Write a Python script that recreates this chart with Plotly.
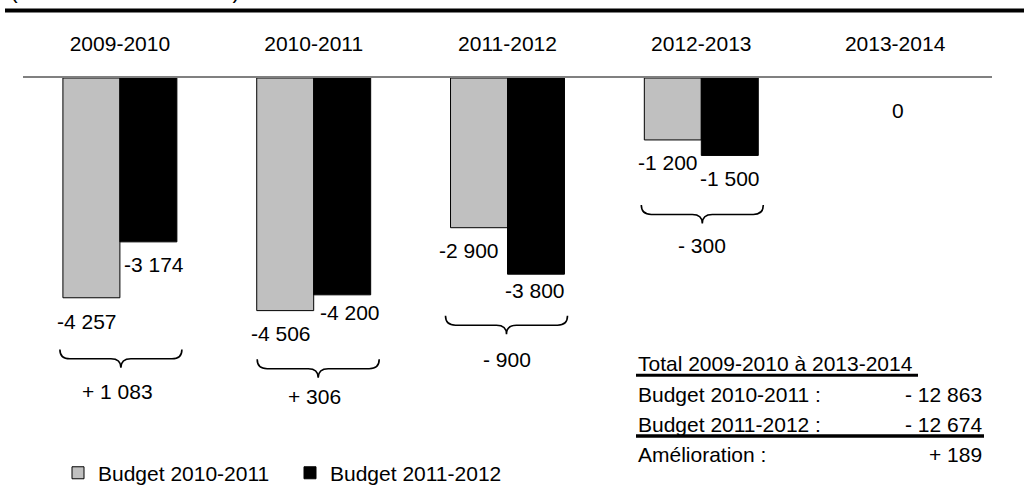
import plotly.graph_objects as go

# ---------------- data ----------------
periods = ["2009-2010", "2010-2011", "2011-2012", "2012-2013", "2013-2014"]
budget_2010_2011 = [-4257, -4506, -2900, -1200, 0]
budget_2011_2012 = [-3174, -4200, -3800, -1500, 0]
series_names = ["Budget 2010-2011", "Budget 2011-2012"]
unit_note = "(en millions de dollars)"
total_title = "Total 2009-2010 à 2013-2014"
total_labels = ["Budget 2010-2011 :", "Budget 2011-2012 :", "Amélioration :"]

# ---------------- layout constants ----------------
W, H = 1024, 500
ML, MR, MT, MB = 23, 32, 78, 6
YMIN, YMAX = -8000, 0
PW, PH = W - ML - MR, H - MT - MB
UX = 5.0 / PW            # category units per pixel
UY = (YMAX - YMIN) / PH  # value units per pixel
FONT = "Liberation Sans, Arial, sans-serif"
FS = 21


def xp(px):
    return (px - ML) / PW


def yp(py):
    return (H - MB - py) / PH


def fmt(v):
    return f"{v:,}".replace(",", " ")


def fmt_signed(v):
    s = "+ " if v >= 0 else "- "
    return s + f"{abs(v):,}".replace(",", " ")


idx = list(range(len(periods)))

fig = go.Figure()
fig.add_trace(go.Bar(x=idx, y=budget_2010_2011, name=series_names[0],
                     marker=dict(color="#C0C0C0",
                                 line=dict(color="black",
                                           width=[1 if v != 0 else 0 for v in budget_2010_2011]))))
fig.add_trace(go.Bar(x=idx, y=budget_2011_2012, name=series_names[1],
                     marker=dict(color="black",
                                 line=dict(color="black",
                                           width=[1 if v != 0 else 0 for v in budget_2011_2012]))))

ann = []
shapes = []

# value labels (pixel offsets of each label from its bar end)
gray_off = [(-33, 24), (-33, 23), (-39, 23), (-33, 23), (3, 32)]
black_off = [(34.5, 23), (36.5, 18), (27, 16), (28.5, 23), (3, 32)]
for i in idx:
    g, b = budget_2010_2011[i], budget_2011_2012[i]
    if g == b:
        dx, dy = gray_off[i]
        ann.append(dict(x=i, y=g, xref="x", yref="y", text=fmt(g), showarrow=False,
                        xshift=dx, yshift=-dy, xanchor="center", yanchor="middle"))
        continue
    for v, (dx, dy) in ((g, gray_off[i]), (b, black_off[i])):
        ann.append(dict(x=i, y=v, xref="x", yref="y", text=fmt(v), showarrow=False,
                        xshift=dx, yshift=-dy, xanchor="center", yanchor="middle"))

# braces + differences
brace_drop = [52, 49, 42, 50]
brace_dx = [1, 4.5, -1, 1]
diff_drop = [42, 37, 44, 41]
diff_dx = [-2, 1, -1, 1]
HALF, R, D1, D2 = 61, 10, 9.5, 18.5
for i in idx:
    g, b = budget_2010_2011[i], budget_2011_2012[i]
    if g == b:
        continue
    low = min(g, b)
    y0 = low - brace_drop[i] * UY
    y1 = y0 - D1 * UY
    y2 = y0 - D2 * UY
    xm = i + brace_dx[i] * UX
    x0 = xm - HALF * UX
    x1 = xm + HALF * UX
    r = R * UX
    path = (f"M{x0},{y0} Q{x0},{y1} {x0 + r},{y1} L{xm - r},{y1} Q{xm},{y1} {xm},{y2} "
            f"Q{xm},{y1} {xm + r},{y1} L{x1 - r},{y1} Q{x1},{y1} {x1},{y0}")
    shapes.append(dict(type="path", path=path, xref="x", yref="y",
                       line=dict(color="black", width=1.6)))
    ann.append(dict(x=i + diff_dx[i] * UX, y=y0 - diff_drop[i] * UY, xref="x", yref="y",
                    text=fmt_signed(b - g), showarrow=False, xanchor="center", yanchor="middle"))

# totals table
tot_g = sum(budget_2010_2011)
tot_b = sum(budget_2011_2012)
total_values = [tot_g, tot_b, tot_b - tot_g]
TX0, TX1 = 636, 984
ann.append(dict(x=xp(TX0), y=yp(366), xref="paper", yref="paper", text=total_title,
                showarrow=False, xanchor="left", yanchor="middle"))
shapes.append(dict(type="line", xref="paper", yref="paper", x0=xp(TX0), x1=xp(918),
                   y0=yp(377.5), y1=yp(377.5), line=dict(color="black", width=3)))
row_y = [397, 427, 457]
for lab, val, ry in zip(total_labels, total_values, row_y):
    ann.append(dict(x=xp(TX0), y=yp(ry), xref="paper", yref="paper", text=lab,
                    showarrow=False, xanchor="left", yanchor="middle"))
    ann.append(dict(x=xp(TX1), y=yp(ry), xref="paper", yref="paper", text=fmt_signed(val),
                    showarrow=False, xanchor="right", yanchor="middle"))
shapes.append(dict(type="line", xref="paper", yref="paper", x0=xp(TX0), x1=xp(TX1),
                   y0=yp(438.5), y1=yp(438.5), line=dict(color="black", width=3.5)))

# header rule and clipped unit note (cut by the top edge, as in the source)
shapes.append(dict(type="line", xref="paper", yref="paper", x0=xp(5), x1=xp(1030),
                   y0=yp(10), y1=yp(10), line=dict(color="black", width=4)))
ann.append(dict(x=xp(8), y=yp(4), xref="paper", yref="paper", text=unit_note,
                showarrow=False, xanchor="left", yanchor="bottom", font=dict(size=23)))

fig.update_layout(
    width=W, height=H,
    margin=dict(l=ML, r=MR, t=MT, b=MB, pad=0),
    paper_bgcolor="white", plot_bgcolor="white",
    font=dict(family=FONT, size=FS, color="black"),
    barmode="group", bargap=0.412, bargroupgap=0,
    xaxis=dict(range=[-0.5, len(periods) - 0.5], side="top", tickvals=idx, ticktext=periods,
               ticks="", showgrid=False, zeroline=False, showline=True,
               linecolor="#808080", linewidth=1.5, ticklabelstandoff=17,
               tickfont=dict(size=FS, family=FONT, color="black")),
    yaxis=dict(range=[YMIN, YMAX], visible=False, showgrid=False, zeroline=False),
    showlegend=True,
    legend=dict(orientation="h", x=xp(58), y=yp(476), xanchor="left", yanchor="middle",
                font=dict(size=FS, family=FONT, color="black"), entrywidth=187,
                bgcolor="rgba(0,0,0,0)", traceorder="normal"),
    annotations=ann,
    shapes=shapes,
)

fig.write_html("out.html", config={"displayModeBar": False},
               post_script="document.body.style.margin='0';")
